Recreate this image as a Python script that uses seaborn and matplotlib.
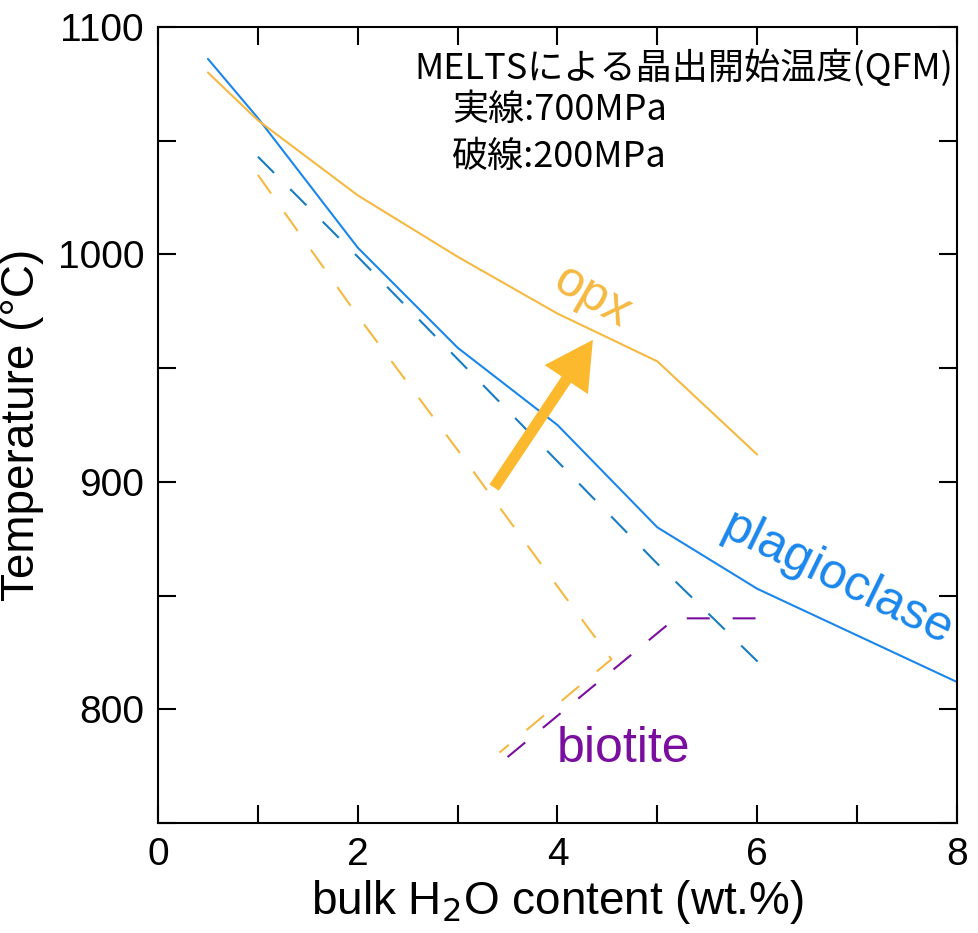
import matplotlib
matplotlib.use("Agg")
import matplotlib.pyplot as plt
from matplotlib.patches import FancyArrowPatch
from matplotlib.ticker import MultipleLocator, FixedLocator
import seaborn as sns
import pandas as pd

# MELTS liquidus-phase appearance temperatures vs bulk H2O
plag_700_h2o = [0.5, 1, 2, 3, 4, 5, 6, 8]
plag_700_t = [1086, 1060, 1003, 959, 925, 880, 853, 812]

opx_700_h2o = [0.5, 1, 2, 3, 4, 5, 6]
opx_700_t = [1080, 1059, 1026, 999, 974, 953, 912]

plag_200_h2o = [1, 2, 3, 4, 5, 6.05]
plag_200_t = [1043, 999, 954, 909, 864, 819]

opx_200_h2o = [1, 2, 3, 4, 4.54, 3.42]
opx_200_t = [1035, 973, 914, 854, 822, 781]

bt_200_h2o = [3.5, 5.18, 6.12]
bt_200_t = [779, 840, 840]

x_ticks = [0, 2, 4, 6, 8]
y_ticks = [800, 900, 1000, 1100]

sns.set_style("ticks")
plt.rcParams["font.family"] = ["Liberation Sans", "DejaVu Sans"]
plt.rcParams["text.color"] = "black"
plt.rcParams["axes.labelcolor"] = "black"
plt.rcParams["xtick.color"] = "black"
plt.rcParams["ytick.color"] = "black"
plt.rcParams["axes.edgecolor"] = "black"
jp_font = ["Noto Sans CJK JP", "DejaVu Sans"]

c_opx = "#F5B942"
c_plag = "#1A86EC"
c_plag_d = "#177CC4"
c_bt = "#7A0E9F"
c_arrow = "#FDB92E"

fig = plt.figure(figsize=(9.79, 9.33), dpi=100)
ax = fig.add_axes([0.1614, 0.1179, 0.8161, 0.8531])

def draw(xs, ys, color, dashed=False):
    df = pd.DataFrame({"h2o": xs, "t": ys})
    kw = dict(data=df, x="h2o", y="t", ax=ax, color=color, lw=1.5,
              sort=False, estimator=None)
    line = sns.lineplot(**kw).lines[-1]
    if dashed:
        line.set_dashes((11, 11))

draw(plag_700_h2o, plag_700_t, c_plag)
draw(opx_700_h2o, opx_700_t, c_opx)
draw(plag_200_h2o, plag_200_t, c_plag_d, dashed=True)
draw(opx_200_h2o, opx_200_t, c_opx, dashed=True)
draw(bt_200_h2o, bt_200_t, c_bt, dashed=True)

ax.set_xlim(0, 8)
ax.set_ylim(750, 1100)
ax.xaxis.set_major_locator(FixedLocator(x_ticks))
ax.xaxis.set_minor_locator(MultipleLocator(1))
ax.yaxis.set_major_locator(FixedLocator(y_ticks))
ax.yaxis.set_minor_locator(MultipleLocator(50))
ax.tick_params(which="both", direction="in", length=13, width=1.5,
               top=True, right=True, labelsize=28, pad=10,
               color="black", labelcolor="black")
for s in ax.spines.values():
    s.set_linewidth(1.5)
    s.set_color("black")
    s.set_visible(True)

ax.set_xlabel("bulk H$_2$O content (wt.%)", fontsize=33, labelpad=4)
ax.set_ylabel("Temperature (°C)", fontsize=33, labelpad=10)

# trend arrow
arrow = FancyArrowPatch((3.35, 896.5), (4.37, 963.5),
                        arrowstyle="simple,head_length=1.15,head_width=1.25,tail_width=0.27",
                        mutation_scale=30, color=c_arrow, lw=0, zorder=5)
ax.add_patch(arrow)

# phase labels
ax.text(4.35, 981, "opx", color=c_opx, fontsize=36, rotation=-30,
        ha="center", va="center", rotation_mode="anchor")
ax.text(6.80, 857, "plagioclase", color=c_plag, fontsize=36, rotation=-26,
        ha="center", va="center", rotation_mode="anchor")
ax.text(3.99, 777, "biotite", color=c_bt, fontsize=36, ha="left", va="baseline")

# legend text
ax.text(2.57, 1082, "MELTSによる晶出開始温度(QFM)", fontsize=26, family=jp_font,
        ha="left", va="center")
ax.text(2.94, 1063.5, "実線:700MPa", fontsize=26, family=jp_font,
        ha="left", va="center")
ax.text(2.94, 1043, "破線:200MPa", fontsize=26, family=jp_font,
        ha="left", va="center")

fig.savefig("out.png", dpi=100)
